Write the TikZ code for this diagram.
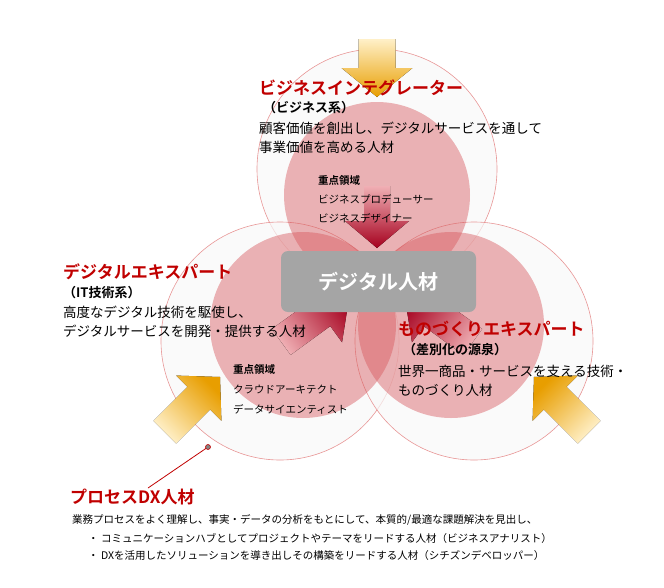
\documentclass[tikz,border=0pt]{standalone}
\usepackage{fontspec}
\setmainfont{Noto Sans CJK JP}
\newfontfamily\jpb{Noto Sans CJK JP Bold}
\begin{document}
\begin{tikzpicture}[x=1pt,y=-1pt,
  outerc/.style={draw=cRing,line width=0.6pt,fill=cOut,fill opacity=0.7},
  innerc/.style={fill=cIn,fill opacity=0.45,draw=none},
  title/.style={anchor=west,inner sep=0,text=cRed,font=\jpb\fontsize{17}{17}\selectfont},
  sub/.style={anchor=west,inner sep=0,font=\jpb\fontsize{13}{13}\selectfont},
  body/.style={anchor=west,inner sep=0,font=\fontsize{13.5}{13.5}\selectfont},
  small/.style={anchor=west,inner sep=0,font=\fontsize{10.5}{10.5}\selectfont},
  smallb/.style={anchor=west,inner sep=0,font=\jpb\fontsize{10.5}{10.5}\selectfont},
  goldar/.style={bottom color=cGoldL,top color=cGold,draw=none,shading angle=#1},
  redar/.style={bottom color=cRedL,top color=cRedD,draw=none,shading angle=#1}]
\definecolor{cRing}{RGB}{232,150,150}
\definecolor{cOut}{RGB}{248,248,248}
\definecolor{cIn}{RGB}{215,90,95}
\definecolor{cRed}{RGB}{192,0,0}
\definecolor{cGold}{RGB}{232,158,0}
\definecolor{cGoldL}{RGB}{255,240,200}
\definecolor{cRedD}{RGB}{165,0,30}
\definecolor{cRedL}{RGB}{240,175,180}
\definecolor{cBox}{RGB}{165,165,165}
\useasboundingbox (0,0) rectangle (664,587);
% outer circles
\node[outerc,circle,minimum size=240pt] (ot) at (377,169) {};
\node[outerc,circle,minimum size=238pt] (ol) at (280,341) {};
\node[outerc,circle,minimum size=238pt] (or) at (474,341) {};
% inner circles
\node[innerc,circle,minimum size=186pt] (it) at (377,195) {};
\node[innerc,circle,minimum size=186pt] (il) at (303,325) {};
\node[innerc,circle,minimum size=186pt] (ir) at (451,325) {};
% gold arrows
\begin{scope}[shift={(377,97)},rotate=-90]
\fill[goldar=180] (0,0)--(-29,35.5)--(-29,18.5)--(-58,18.5)--(-58,-18.5)--(-29,-18.5)--(-29,-35.5)--cycle;
\end{scope}
\begin{scope}[shift={(534,377)},rotate=135]
\fill[goldar=45] (0,0)--(-30,32)--(-30,16)--(-78,16)--(-78,-16)--(-30,-16)--(-30,-32)--cycle;
\end{scope}
\begin{scope}[shift={(220,377)},rotate=45]
\fill[goldar=-45] (0,0)--(-30,32)--(-30,16)--(-78,16)--(-78,-16)--(-30,-16)--(-30,-32)--cycle;
\end{scope}
% red arrows
\begin{scope}[shift={(377,248)},rotate=-90]
\fill[redar=180] (0,0)--(-27,32)--(-27,13)--(-62,13)--(-62,-13)--(-27,-13)--(-27,-32)--cycle;
\end{scope}
\begin{scope}[shift={(350,292)},rotate=36]
\fill[redar=-54] (0,0)--(-36,36)--(-36,16)--(-85,16)--(-85,-16)--(-36,-16)--(-36,-36)--cycle;
\end{scope}
\begin{scope}[shift={(404,292)},rotate=144]
\fill[redar=54] (0,0)--(-36,36)--(-36,16)--(-85,16)--(-85,-16)--(-36,-16)--(-36,-36)--cycle;
\end{scope}
% center box
\node[fill=cBox,rounded corners=7pt,minimum width=195pt,minimum height=61pt,
  text=white,font=\jpb\fontsize{20}{20}\selectfont] (box) at (378.5,281.5) {デジタル人材};
% top group
\node[title] (t1) at (259,88) {ビジネスインテグレーター};
\node[sub] (t2) at (263,108) {（ビジネス系）};
\node[body] (t3) at (259,128) {顧客価値を創出し、デジタルサービスを通して};
\node[body] (t4) at (259,147) {事業価値を高める人材};
\node[smallb] (t5) at (318,181) {重点領域};
\node[small] (t6) at (318,199) {ビジネスプロデューサー};
\node[small] (t7) at (318,218) {ビジネスデザイナー};
% left group
\node[title] (l1) at (63,272) {デジタルエキスパート};
\node[sub] (l2) at (63,293) {（IT技術系）};
\node[body] (l3) at (63,312) {高度なデジタル技術を駆使し、};
\node[body] (l4) at (63,331) {デジタルサービスを開発・提供する人材};
\node[smallb] (l5) at (233,370) {重点領域};
\node[small] (l6) at (233,390) {クラウドアーキテクト};
\node[small] (l7) at (233,409) {データサイエンティスト};
% right group
\node[title] (r1) at (398,329) {ものづくりエキスパート};
\node[sub] (r2) at (403,350) {（差別化の源泉）};
\node[body] (r3) at (398,371) {世界一商品・サービスを支える技術・};
\node[body] (r4) at (398,390) {ものづくり人材};
% bottom
\coordinate (dot) at (208,447);
\coordinate (lend) at (148,488);
\draw[cRed,line width=0.8pt] (dot) -- (lend);
\fill[cBox!80!black,draw=cRed,line width=0.6pt] (dot) circle (2.5);
\node[title] (b1) at (70,497) {プロセスDX人材};
\node[small] (b2) at (72,520) {業務プロセスをよく理解し、事実・データの分析をもとにして、本質的/最適な課題解決を見出し、};
\node[small] (b3) at (88,538) {・ コミュニケーションハブとしてプロジェクトやテーマをリードする人材（ビジネスアナリスト）};
\node[small] (b4) at (88,556) {・ DXを活用したソリューションを導き出しその構築をリードする人材（シチズンデベロッパー）};
\end{tikzpicture}
\end{document}
